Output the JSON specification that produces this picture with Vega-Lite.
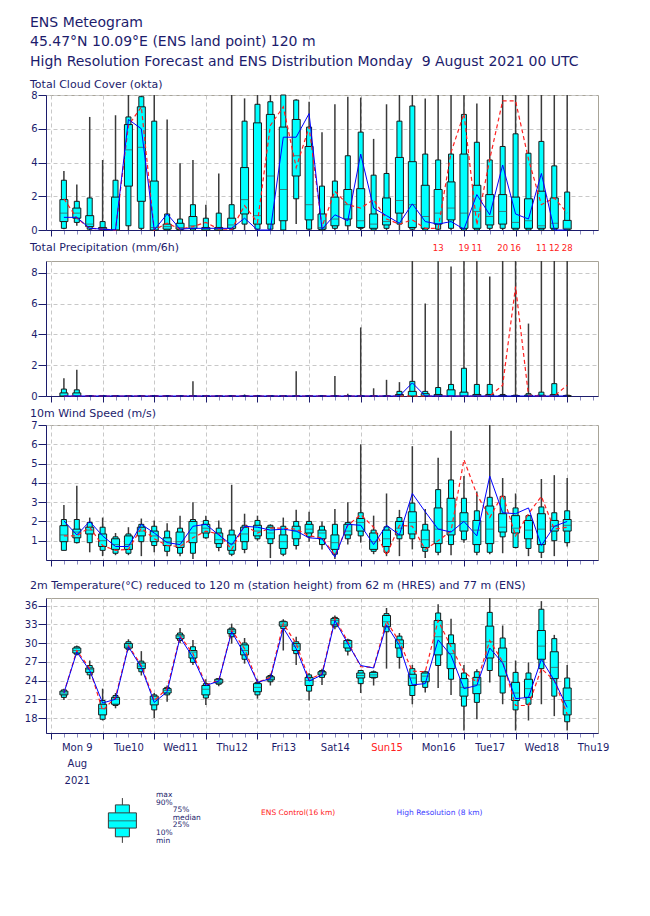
{
  "$schema": "https://vega.github.io/schema/vega-lite/v6.json",
  "padding": {"left": 23, "top": 15, "right": 5, "bottom": 5},
  "background": "white",
  "spacing": 4,
  "title": {
    "text": ["ENS Meteogram", "\u00a045.47°N 10.09°E (ENS land point) 120 m", "High Resolution Forecast and ENS Distribution Monday\u00a0 9 August 2021 00 UTC"],
    "anchor": "start", "frame": "group", "dx": -16, "fontSize": 14, "fontWeight": "normal",
    "color": "#1c1c6c", "lineHeight": 19.5, "offset": 10, "font": "DejaVu Sans"
  },
  "config": {
    "font": "DejaVu Sans",
    "view": {"stroke": "#a8a498", "strokeWidth": 1},
    "axis": {"domainColor": "#1c1c6c", "tickColor": "#1c1c6c", "labelColor": "#1c1c6c", "labelFont": "DejaVu Sans", "labelFontSize": 10, "gridColor": "#c8c8c8", "gridDash": [4, 3], "gridWidth": 1, "title": null},
    "axisY": {"tickSize": 8, "labelPadding": 1, "grid": true},
    "title": {"anchor": "start", "frame": "group", "dx": -16, "fontSize": 11, "fontWeight": "normal", "color": "#1c1c6c", "offset": -1, "font": "DejaVu Sans"}
  },
  "datasets": {
    "cloud": [
      {"t":6,"min":0.05,"p10":0.1,"p25":0.5,"med":1.0,"p75":1.8,"p90":2.95,"max":3.5,"ctrl":1.85,"hres":0.75},
      {"t":12,"min":0.25,"p10":0.45,"p25":0.7,"med":1.0,"p75":1.3,"p90":1.7,"max":2.7,"ctrl":0.7,"hres":0.75},
      {"t":18,"min":0,"p10":0.05,"p25":0.2,"med":0.35,"p75":0.85,"p90":1.9,"max":6.7,"ctrl":0.1,"hres":0.1},
      {"t":24,"min":0,"p10":0,"p25":0.05,"med":0.1,"p75":0.15,"p90":0.5,"max":4.15,"ctrl":0.05,"hres":0.05},
      {"t":30,"min":0,"p10":0,"p25":0,"med":0,"p75":1.95,"p90":2.95,"max":6.8,"ctrl":0,"hres":0},
      {"t":36,"min":0,"p10":0.25,"p25":2.6,"med":4.75,"p75":6.25,"p90":6.7,"max":8,"ctrl":6.2,"hres":6.55},
      {"t":42,"min":0,"p10":0.1,"p25":1.7,"med":4.9,"p75":7.3,"p90":7.9,"max":7.95,"ctrl":7.3,"hres":6.0},
      {"t":48,"min":0,"p10":0,"p25":0,"med":0.15,"p75":2.9,"p90":6.45,"max":8,"ctrl":0,"hres":0},
      {"t":54,"min":0,"p10":0,"p25":0.05,"med":0.2,"p75":0.35,"p90":0.95,"max":6.55,"ctrl":0.4,"hres":0.95},
      {"t":60,"min":0,"p10":0,"p25":0.05,"med":0.15,"p75":0.4,"p90":0.65,"max":3.95,"ctrl":0.05,"hres":0.05},
      {"t":66,"min":0,"p10":0,"p25":0.1,"med":0.25,"p75":0.8,"p90":1.5,"max":4.15,"ctrl":0.2,"hres":0.1},
      {"t":72,"min":0,"p10":0,"p25":0,"med":0.1,"p75":0.15,"p90":0.7,"max":1.5,"ctrl":0.45,"hres":0.1},
      {"t":78,"min":0,"p10":0,"p25":0,"med":0.1,"p75":0.15,"p90":1.0,"max":3.35,"ctrl":0.05,"hres":0.1},
      {"t":84,"min":0,"p10":0.05,"p25":0.1,"med":0.3,"p75":0.7,"p90":1.5,"max":8,"ctrl":0.05,"hres":0.1},
      {"t":90,"min":0,"p10":0.35,"p25":0.95,"med":1.8,"p75":3.7,"p90":6.45,"max":7.8,"ctrl":1.45,"hres":0.7},
      {"t":96,"min":0,"p10":0.05,"p25":0.35,"med":0.85,"p75":6.35,"p90":7.45,"max":8,"ctrl":0.45,"hres":0},
      {"t":102,"min":0,"p10":0.05,"p25":0.35,"med":3.2,"p75":6.85,"p90":7.6,"max":8,"ctrl":6.2,"hres":0},
      {"t":108,"min":0,"p10":0,"p25":0.55,"med":2.4,"p75":6.1,"p90":8,"max":8,"ctrl":7.3,"hres":5.5},
      {"t":114,"min":0.35,"p10":1.85,"p25":3.2,"med":4.4,"p75":6.55,"p90":7.7,"max":7.75,"ctrl":3.7,"hres":5.5},
      {"t":120,"min":0,"p10":0.05,"p25":0.6,"med":1.5,"p75":4.95,"p90":6.1,"max":7.6,"ctrl":6.1,"hres":6.9},
      {"t":126,"min":0,"p10":0,"p25":0.05,"med":0.15,"p75":0.95,"p90":2.6,"max":5.8,"ctrl":0.2,"hres":0.05},
      {"t":132,"min":0,"p10":0.1,"p25":0.25,"med":0.65,"p75":1.95,"p90":2.9,"max":7.45,"ctrl":2.3,"hres":0.9},
      {"t":138,"min":0,"p10":0.25,"p25":0.65,"med":1.5,"p75":2.4,"p90":4.4,"max":7.9,"ctrl":1.5,"hres":0.55},
      {"t":144,"min":0,"p10":0.1,"p25":0.15,"med":0.55,"p75":2.45,"p90":5.8,"max":7.85,"ctrl":1.3,"hres":4.5},
      {"t":150,"min":0,"p10":0,"p25":0.1,"med":0.35,"p75":0.95,"p90":3.25,"max":5.4,"ctrl":1.8,"hres":1.3},
      {"t":156,"min":0,"p10":0.1,"p25":0.3,"med":0.5,"p75":1.9,"p90":3.35,"max":7.45,"ctrl":0.65,"hres":0.85},
      {"t":162,"min":0,"p10":0.35,"p25":1.0,"med":1.75,"p75":4.3,"p90":6.45,"max":8,"ctrl":0.35,"hres":0.4},
      {"t":168,"min":0,"p10":0.05,"p25":0.15,"med":1.5,"p75":4.05,"p90":7.35,"max":8,"ctrl":0.6,"hres":1.55},
      {"t":174,"min":0,"p10":0,"p25":0.1,"med":0.8,"p75":2.65,"p90":4.5,"max":7.8,"ctrl":0.1,"hres":0.5},
      {"t":180,"min":0,"p10":0.05,"p25":0.35,"med":1.0,"p75":2.4,"p90":4.15,"max":8,"ctrl":0.1,"hres":0.35},
      {"t":186,"min":0,"p10":0.1,"p25":0.6,"med":1.3,"p75":2.85,"p90":4.5,"max":8,"ctrl":4.6,"hres":0.5},
      {"t":192,"min":0,"p10":0,"p25":0.1,"med":1.0,"p75":4.5,"p90":6.85,"max":8,"ctrl":6.9,"hres":0.05},
      {"t":198,"min":0,"p10":0,"p25":0.1,"med":1.1,"p75":2.65,"p90":5.2,"max":7.5,"ctrl":0.3,"hres":2.1},
      {"t":204,"min":0,"p10":0.1,"p25":0.3,"med":0.8,"p75":2.1,"p90":4.15,"max":7.9,"ctrl":4.2,"hres":0.9},
      {"t":210,"min":0,"p10":0.1,"p25":0.35,"med":1.1,"p75":2.1,"p90":4.95,"max":8,"ctrl":7.65,"hres":3.85},
      {"t":216,"min":0,"p10":0,"p25":0.1,"med":0.45,"p75":1.95,"p90":5.7,"max":8,"ctrl":7.65,"hres":0.95},
      {"t":222,"min":0,"p10":0,"p25":0.1,"med":0.55,"p75":1.85,"p90":4.55,"max":8,"ctrl":4.2,"hres":0.65},
      {"t":228,"min":0,"p10":0,"p25":0.1,"med":0.25,"p75":2.3,"p90":5.25,"max":8,"ctrl":1.5,"hres":3.35},
      {"t":234,"min":0,"p10":0,"p25":0.1,"med":0.4,"p75":1.9,"p90":3.8,"max":8,"ctrl":1.9,"hres":0},
      {"t":240,"min":0,"p10":0,"p25":0.05,"med":0.1,"p75":0.57,"p90":2.25,"max":8,"ctrl":1.0,"hres":0}
    ],
    "precip": [
      {"t":6,"min":0,"p10":0,"p25":0,"med":0.02,"p75":0.2,"p90":0.45,"max":1.15,"ctrl":0,"hres":0},
      {"t":12,"min":0,"p10":0,"p25":0,"med":0.05,"p75":0.2,"p90":0.4,"max":1.7,"ctrl":0,"hres":0},
      {"t":18,"min":0,"p10":0,"p25":0,"med":0,"p75":0,"p90":0,"max":0,"ctrl":0,"hres":0},
      {"t":24,"min":0,"p10":0,"p25":0,"med":0,"p75":0,"p90":0,"max":0,"ctrl":0,"hres":0},
      {"t":30,"min":0,"p10":0,"p25":0,"med":0,"p75":0,"p90":0,"max":0,"ctrl":0,"hres":0},
      {"t":36,"min":0,"p10":0,"p25":0,"med":0,"p75":0,"p90":0,"max":0,"ctrl":0,"hres":0},
      {"t":42,"min":0,"p10":0,"p25":0,"med":0,"p75":0,"p90":0,"max":0,"ctrl":0,"hres":0},
      {"t":48,"min":0,"p10":0,"p25":0,"med":0,"p75":0,"p90":0,"max":0,"ctrl":0,"hres":0},
      {"t":54,"min":0,"p10":0,"p25":0,"med":0,"p75":0,"p90":0,"max":0,"ctrl":0,"hres":0},
      {"t":60,"min":0,"p10":0,"p25":0,"med":0,"p75":0,"p90":0,"max":0,"ctrl":0,"hres":0},
      {"t":66,"min":0,"p10":0,"p25":0,"med":0,"p75":0,"p90":0,"max":0.95,"ctrl":0,"hres":0},
      {"t":72,"min":0,"p10":0,"p25":0,"med":0,"p75":0,"p90":0,"max":0,"ctrl":0,"hres":0},
      {"t":78,"min":0,"p10":0,"p25":0,"med":0,"p75":0,"p90":0,"max":0,"ctrl":0,"hres":0},
      {"t":84,"min":0,"p10":0,"p25":0,"med":0,"p75":0,"p90":0,"max":0,"ctrl":0,"hres":0},
      {"t":90,"min":0,"p10":0,"p25":0,"med":0,"p75":0,"p90":0,"max":0.1,"ctrl":0,"hres":0},
      {"t":96,"min":0,"p10":0,"p25":0,"med":0,"p75":0,"p90":0,"max":0,"ctrl":0,"hres":0},
      {"t":102,"min":0,"p10":0,"p25":0,"med":0,"p75":0,"p90":0,"max":0,"ctrl":0,"hres":0},
      {"t":108,"min":0,"p10":0,"p25":0,"med":0,"p75":0,"p90":0,"max":0,"ctrl":0,"hres":0},
      {"t":114,"min":0,"p10":0,"p25":0,"med":0,"p75":0,"p90":0,"max":1.6,"ctrl":0,"hres":0},
      {"t":120,"min":0,"p10":0,"p25":0,"med":0,"p75":0,"p90":0,"max":0,"ctrl":0,"hres":0},
      {"t":126,"min":0,"p10":0,"p25":0,"med":0,"p75":0,"p90":0,"max":0,"ctrl":0,"hres":0},
      {"t":132,"min":0,"p10":0,"p25":0,"med":0,"p75":0,"p90":0,"max":1.3,"ctrl":0,"hres":0},
      {"t":138,"min":0,"p10":0,"p25":0,"med":0,"p75":0,"p90":0,"max":0.15,"ctrl":0,"hres":0},
      {"t":144,"min":0,"p10":0,"p25":0,"med":0,"p75":0,"p90":0,"max":4.45,"ctrl":0,"hres":0},
      {"t":150,"min":0,"p10":0,"p25":0,"med":0,"p75":0,"p90":0,"max":0.5,"ctrl":0,"hres":0},
      {"t":156,"min":0,"p10":0,"p25":0,"med":0,"p75":0,"p90":0,"max":1.05,"ctrl":0,"hres":0},
      {"t":162,"min":0,"p10":0,"p25":0,"med":0.02,"p75":0.1,"p90":0.3,"max":0.9,"ctrl":0,"hres":0},
      {"t":168,"min":0,"p10":0,"p25":0,"med":0.05,"p75":0.3,"p90":0.95,"max":8.8,"ctrl":0,"hres":0.85},
      {"t":174,"min":0,"p10":0,"p25":0,"med":0.02,"p75":0.15,"p90":0.3,"max":6.0,"ctrl":0,"hres":0},
      {"t":180,"min":0,"p10":0,"p25":0,"med":0.02,"p75":0.1,"p90":0.55,"max":13,"ctrl":0,"hres":0},
      {"t":186,"min":0,"p10":0,"p25":0,"med":0.1,"p75":0.4,"p90":0.75,"max":8.4,"ctrl":0,"hres":0},
      {"t":192,"min":0,"p10":0,"p25":0,"med":0.05,"p75":0.25,"p90":1.8,"max":19,"ctrl":0,"hres":0},
      {"t":198,"min":0,"p10":0,"p25":0,"med":0.02,"p75":0.1,"p90":0.75,"max":11,"ctrl":0,"hres":0},
      {"t":204,"min":0,"p10":0,"p25":0,"med":0.02,"p75":0.1,"p90":0.75,"max":7.75,"ctrl":0,"hres":0},
      {"t":210,"min":0,"p10":0,"p25":0,"med":0,"p75":0.02,"p90":0.1,"max":20,"ctrl":0.7,"hres":0},
      {"t":216,"min":0,"p10":0,"p25":0,"med":0,"p75":0.02,"p90":0.05,"max":16,"ctrl":7.1,"hres":0},
      {"t":222,"min":0,"p10":0,"p25":0,"med":0,"p75":0.05,"p90":0.15,"max":4.7,"ctrl":0.05,"hres":0},
      {"t":228,"min":0,"p10":0,"p25":0,"med":0,"p75":0.05,"p90":0.25,"max":11,"ctrl":0,"hres":0},
      {"t":234,"min":0,"p10":0,"p25":0,"med":0.02,"p75":0.1,"p90":0.8,"max":12,"ctrl":0,"hres":0},
      {"t":240,"min":0,"p10":0,"p25":0,"med":0,"p75":0.02,"p90":0.05,"max":28,"ctrl":0.7,"hres":0}
    ],
    "wind": [
      {"t":6,"min":0.5,"p10":0.5,"p25":0.95,"med":1.3,"p75":1.78,"p90":2.1,"max":2.85,"ctrl":1.25,"hres":2.03},
      {"t":12,"min":0.85,"p10":0.9,"p25":1.15,"med":1.45,"p75":1.6,"p90":2.1,"max":3.85,"ctrl":1.25,"hres":1.3},
      {"t":18,"min":0.4,"p10":0.9,"p25":1.35,"med":1.55,"p75":1.7,"p90":1.95,"max":2.2,"ctrl":1.7,"hres":2.0},
      {"t":24,"min":0.2,"p10":0.5,"p25":0.7,"med":1.0,"p75":1.35,"p90":1.7,"max":2.2,"ctrl":0.75,"hres":1.25},
      {"t":30,"min":0.25,"p10":0.35,"p25":0.55,"med":0.8,"p75":1.1,"p90":1.2,"max":1.4,"ctrl":0.5,"hres":0.7},
      {"t":36,"min":0.25,"p10":0.35,"p25":0.55,"med":0.8,"p75":1.25,"p90":1.35,"max":1.7,"ctrl":0.55,"hres":0.7},
      {"t":42,"min":0.2,"p10":0.95,"p25":1.25,"med":1.5,"p75":1.7,"p90":1.85,"max":2.15,"ctrl":1.65,"hres":1.85},
      {"t":48,"min":0.4,"p10":0.75,"p25":0.95,"med":1.25,"p75":1.5,"p90":1.75,"max":2.05,"ctrl":1.1,"hres":1.4},
      {"t":54,"min":0.2,"p10":0.45,"p25":0.75,"med":0.95,"p75":1.15,"p90":1.5,"max":1.9,"ctrl":0.75,"hres":0.9},
      {"t":60,"min":0.2,"p10":0.35,"p25":0.65,"med":0.95,"p75":1.45,"p90":1.65,"max":2.3,"ctrl":0.7,"hres":0.8},
      {"t":66,"min":0.05,"p10":0.35,"p25":0.9,"med":1.4,"p75":2.0,"p90":2.1,"max":3.0,"ctrl":1.15,"hres":1.75},
      {"t":72,"min":1.1,"p10":1.15,"p25":1.4,"med":1.65,"p75":1.85,"p90":2.05,"max":2.3,"ctrl":1.5,"hres":1.85},
      {"t":78,"min":0.45,"p10":0.65,"p25":0.85,"med":1.05,"p75":1.4,"p90":1.65,"max":2.05,"ctrl":1.35,"hres":1.3},
      {"t":84,"min":0.2,"p10":0.3,"p25":0.5,"med":0.85,"p75":1.3,"p90":1.55,"max":3.9,"ctrl":0.55,"hres":0.78},
      {"t":90,"min":0.35,"p10":0.55,"p25":0.95,"med":1.35,"p75":1.7,"p90":1.8,"max":2.4,"ctrl":1.8,"hres":1.75},
      {"t":96,"min":1.0,"p10":1.1,"p25":1.25,"med":1.5,"p75":1.8,"p90":2.05,"max":2.3,"ctrl":1.4,"hres":1.7},
      {"t":102,"min":0.1,"p10":0.85,"p25":1.1,"med":1.4,"p75":1.7,"p90":1.8,"max":1.85,"ctrl":1.65,"hres":1.55},
      {"t":108,"min":0.2,"p10":0.3,"p25":0.6,"med":0.95,"p75":1.3,"p90":1.75,"max":2.2,"ctrl":1.65,"hres":1.6},
      {"t":114,"min":0.55,"p10":0.75,"p25":1.1,"med":1.5,"p75":1.75,"p90":2.0,"max":2.6,"ctrl":1.6,"hres":1.5},
      {"t":120,"min":0.95,"p10":1.2,"p25":1.4,"med":1.6,"p75":1.85,"p90":2.0,"max":2.5,"ctrl":1.25,"hres":1.15},
      {"t":126,"min":0.55,"p10":0.8,"p25":1.1,"med":1.4,"p75":1.55,"p90":1.75,"max":2.0,"ctrl":1.15,"hres":1.1},
      {"t":132,"min":0.05,"p10":0.3,"p25":0.55,"med":0.9,"p75":1.3,"p90":1.85,"max":2.65,"ctrl":0.25,"hres":0.15},
      {"t":138,"min":0.8,"p10":1.1,"p25":1.3,"med":1.5,"p75":1.85,"p90":1.95,"max":3.0,"ctrl":1.8,"hres":1.85},
      {"t":144,"min":0.9,"p10":1.25,"p25":1.5,"med":1.95,"p75":2.15,"p90":2.45,"max":6.0,"ctrl":2.35,"hres":1.8},
      {"t":150,"min":0.3,"p10":0.45,"p25":0.55,"med":0.95,"p75":1.4,"p90":1.55,"max":2.3,"ctrl":1.7,"hres":0.8},
      {"t":156,"min":0.2,"p10":0.4,"p25":0.7,"med":1.1,"p75":1.55,"p90":1.72,"max":3.45,"ctrl":0.25,"hres":1.8},
      {"t":162,"min":0.2,"p10":1.1,"p25":1.3,"med":1.65,"p75":2.0,"p90":2.2,"max":2.6,"ctrl":1.8,"hres":1.3},
      {"t":168,"min":0.55,"p10":1.1,"p25":1.35,"med":1.95,"p75":2.5,"p90":2.95,"max":5.9,"ctrl":1.75,"hres":3.45},
      {"t":174,"min":0.1,"p10":0.45,"p25":0.65,"med":1.05,"p75":1.55,"p90":1.85,"max":2.65,"ctrl":0.55,"hres":2.5},
      {"t":180,"min":0.25,"p10":0.4,"p25":0.85,"med":1.6,"p75":2.7,"p90":3.65,"max":5.3,"ctrl":1.0,"hres":1.6},
      {"t":186,"min":0.25,"p10":0.8,"p25":1.3,"med":2.0,"p75":3.2,"p90":4.15,"max":6.7,"ctrl":1.5,"hres":1.45},
      {"t":192,"min":0.9,"p10":1.05,"p25":1.5,"med":2.0,"p75":2.45,"p90":3.2,"max":4.35,"ctrl":5.2,"hres":2.0},
      {"t":198,"min":0.25,"p10":0.4,"p25":0.8,"med":1.55,"p75":2.05,"p90":2.55,"max":3.55,"ctrl":3.4,"hres":1.25},
      {"t":204,"min":0.3,"p10":0.4,"p25":0.85,"med":1.6,"p75":2.8,"p90":3.25,"max":7.0,"ctrl":2.2,"hres":4.35},
      {"t":210,"min":0.35,"p10":1.2,"p25":1.45,"med":1.7,"p75":2.4,"p90":3.3,"max":4.25,"ctrl":3.4,"hres":2.45},
      {"t":216,"min":0.6,"p10":0.65,"p25":1.4,"med":1.65,"p75":2.3,"p90":2.7,"max":3.45,"ctrl":1.25,"hres":2.4},
      {"t":222,"min":0.2,"p10":0.6,"p25":1.1,"med":1.55,"p75":2.05,"p90":2.3,"max":2.35,"ctrl":2.4,"hres":2.7},
      {"t":228,"min":0.1,"p10":0.4,"p25":0.8,"med":1.6,"p75":2.4,"p90":2.75,"max":4.2,"ctrl":3.3,"hres":0.75},
      {"t":234,"min":0.2,"p10":1.0,"p25":1.5,"med":1.75,"p75":2.05,"p90":2.45,"max":4.4,"ctrl":1.6,"hres":1.75},
      {"t":240,"min":0.7,"p10":0.9,"p25":1.5,"med":1.8,"p75":2.1,"p90":2.55,"max":4.25,"ctrl":1.7,"hres":2.0}
    ],
    "temp": [
      {"t":6,"min":20.9,"p10":21.3,"p25":21.7,"med":22.0,"p75":22.3,"p90":22.5,"max":22.7,"ctrl":22.0,"hres":22.0},
      {"t":12,"min":28.0,"p10":28.2,"p25":28.4,"med":28.8,"p75":29.2,"p90":29.4,"max":29.6,"ctrl":28.8,"hres":28.55},
      {"t":18,"min":24.2,"p10":24.9,"p25":25.3,"med":25.8,"p75":26.0,"p90":26.4,"max":27.2,"ctrl":25.9,"hres":25.6},
      {"t":24,"min":17.6,"p10":17.8,"p25":18.5,"med":19.5,"p75":20.2,"p90":20.8,"max":22.7,"ctrl":19.2,"hres":20.4},
      {"t":30,"min":19.55,"p10":20.0,"p25":20.2,"med":21.0,"p75":21.3,"p90":21.6,"max":22.0,"ctrl":21.3,"hres":21.0},
      {"t":36,"min":28.8,"p10":29.0,"p25":29.2,"med":29.5,"p75":29.9,"p90":30.2,"max":30.6,"ctrl":29.6,"hres":29.4},
      {"t":42,"min":24.8,"p10":25.4,"p25":25.9,"med":26.3,"p75":26.8,"p90":27.1,"max":28.7,"ctrl":26.4,"hres":26.1},
      {"t":48,"min":18.0,"p10":19.3,"p25":20.1,"med":21.0,"p75":21.5,"p90":21.7,"max":22.0,"ctrl":20.8,"hres":20.5},
      {"t":54,"min":20.6,"p10":21.7,"p25":22.0,"med":22.4,"p75":22.7,"p90":22.9,"max":23.2,"ctrl":22.7,"hres":22.2},
      {"t":60,"min":30.0,"p10":30.4,"p25":30.7,"med":31.1,"p75":31.3,"p90":31.6,"max":32.4,"ctrl":31.1,"hres":30.9},
      {"t":66,"min":26.5,"p10":26.9,"p25":27.6,"med":28.55,"p75":28.8,"p90":29.4,"max":30.5,"ctrl":28.3,"hres":27.7},
      {"t":72,"min":20.1,"p10":21.2,"p25":21.7,"med":22.6,"p75":23.2,"p90":23.5,"max":24.2,"ctrl":23.3,"hres":23.2},
      {"t":78,"min":23.1,"p10":23.4,"p25":23.6,"med":23.9,"p75":24.2,"p90":24.3,"max":24.4,"ctrl":24.0,"hres":23.9},
      {"t":84,"min":29.9,"p10":31.0,"p25":31.5,"med":31.9,"p75":32.2,"p90":32.4,"max":33.1,"ctrl":32.0,"hres":31.8},
      {"t":90,"min":26.7,"p10":27.4,"p25":28.1,"med":28.8,"p75":29.7,"p90":30.0,"max":30.8,"ctrl":29.1,"hres":28.2},
      {"t":96,"min":21.1,"p10":21.7,"p25":22.2,"med":22.9,"p75":23.5,"p90":23.7,"max":24.2,"ctrl":23.7,"hres":23.7},
      {"t":102,"min":23.2,"p10":23.8,"p25":24.1,"med":24.4,"p75":24.6,"p90":24.8,"max":25.1,"ctrl":24.5,"hres":24.3},
      {"t":108,"min":28.8,"p10":32.3,"p25":32.7,"med":33.0,"p75":33.4,"p90":33.5,"max":33.8,"ctrl":33.1,"hres":32.4},
      {"t":114,"min":26.5,"p10":28.3,"p25":28.8,"med":29.5,"p75":29.9,"p90":30.2,"max":31.0,"ctrl":29.9,"hres":29.1},
      {"t":120,"min":20.8,"p10":22.3,"p25":23.2,"med":24.0,"p75":24.5,"p90":24.9,"max":25.2,"ctrl":24.2,"hres":23.9},
      {"t":126,"min":23.3,"p10":24.5,"p25":24.9,"med":25.2,"p75":25.4,"p90":25.6,"max":25.9,"ctrl":25.1,"hres":24.9},
      {"t":132,"min":32.2,"p10":32.6,"p25":32.9,"med":33.6,"p75":33.9,"p90":34.1,"max":34.4,"ctrl":33.9,"hres":33.6},
      {"t":138,"min":28.0,"p10":28.7,"p25":29.2,"med":29.9,"p75":30.4,"p90":30.5,"max":30.7,"ctrl":30.2,"hres":29.9},
      {"t":144,"min":22.0,"p10":23.5,"p25":24.4,"med":24.8,"p75":25.2,"p90":25.6,"max":25.7,"ctrl":26.2,"hres":26.4},
      {"t":150,"min":23.2,"p10":24.4,"p25":24.5,"med":24.9,"p75":25.3,"p90":25.4,"max":25.6,"ctrl":26.1,"hres":26.0},
      {"t":156,"min":25.9,"p10":31.8,"p25":32.6,"med":33.4,"p75":34.4,"p90":34.7,"max":35.6,"ctrl":33.5,"hres":32.9},
      {"t":162,"min":25.9,"p10":27.7,"p25":29.2,"med":29.9,"p75":30.5,"p90":31.1,"max":31.6,"ctrl":30.2,"hres":29.6},
      {"t":168,"min":20.2,"p10":21.6,"p25":23.2,"med":24.4,"p75":25.0,"p90":25.9,"max":26.5,"ctrl":25.5,"hres":23.3},
      {"t":174,"min":22.1,"p10":22.9,"p25":23.8,"med":24.7,"p75":25.2,"p90":25.4,"max":25.6,"ctrl":25.4,"hres":23.5},
      {"t":180,"min":22.8,"p10":26.4,"p25":28.1,"med":31.0,"p75":33.6,"p90":34.8,"max":36.2,"ctrl":33.6,"hres":30.5},
      {"t":186,"min":21.7,"p10":24.2,"p25":25.9,"med":28.3,"p75":29.9,"p90":31.3,"max":33.9,"ctrl":29.4,"hres":28.0},
      {"t":192,"min":16.0,"p10":19.9,"p25":21.5,"med":22.9,"p75":24.3,"p90":25.2,"max":26.5,"ctrl":25.4,"hres":22.7},
      {"t":198,"min":17.8,"p10":20.5,"p25":21.9,"med":23.3,"p75":24.5,"p90":25.4,"max":25.8,"ctrl":23.7,"hres":23.2},
      {"t":204,"min":23.7,"p10":25.6,"p25":27.6,"med":30.2,"p75":32.7,"p90":34.9,"max":37.2,"ctrl":30.4,"hres":29.2},
      {"t":210,"min":20.2,"p10":22.0,"p25":24.7,"med":27.0,"p75":29.2,"p90":30.8,"max":32.8,"ctrl":27.0,"hres":26.8},
      {"t":216,"min":16.0,"p10":19.3,"p25":20.8,"med":22.0,"p75":23.7,"p90":25.3,"max":27.2,"ctrl":20.0,"hres":21.1},
      {"t":222,"min":17.6,"p10":20.2,"p25":21.3,"med":22.7,"p75":24.2,"p90":25.2,"max":26.9,"ctrl":20.0,"hres":21.3},
      {"t":228,"min":20.2,"p10":25.9,"p25":27.4,"med":29.5,"p75":32.0,"p90":35.4,"max":36.7,"ctrl":25.9,"hres":27.4},
      {"t":234,"min":18.3,"p10":21.5,"p25":24.3,"med":26.1,"p75":28.6,"p90":30.7,"max":31.3,"ctrl":24.0,"hres":24.0},
      {"t":240,"min":16.0,"p10":17.4,"p25":18.5,"med":20.8,"p75":22.8,"p90":24.4,"max":26.5,"ctrl":18.6,"hres":19.7}
    ]
  },
  "vconcat": [
    {
      "title": {"text": "Total Cloud Cover (okta)", "offset": 0},
      "data": {"name": "cloud"},
      "width": 552, "height": 135,
      "encoding": {"x": {"field": "t", "type": "quantitative", "scale": {"domain": [0, 252], "nice": false, "zero": false},
        "axis": {"values": [0,6,12,18,24,30,36,42,48,54,60,66,72,78,84,90,96,102,108,114,120,126,132,138,144,150,156,162,168,174,180,186,192,198,204,210,216,222,228,234,240,246,252], "tickCount": 100, "labels": false, "grid": true,
          "gridOpacity": {"condition": {"test": "datum.value % 24 == 0", "value": 1}, "value": 0},
          "tickColor": {"condition": {"test": "datum.value % 24 == 0", "value": "#1c1c6c"}, "value": "#8c8cc0"},
          "tickSize": {"condition": {"test": "datum.value % 24 == 0", "value": 6}, "value": 4}}}},
      "layer": [
        {"mark": {"type": "rule", "color": "#3a3a3a", "strokeWidth": 1.5}, "encoding": {"y": {"field": "min", "type": "quantitative", "scale": {"domain": [0, 8], "nice": false, "clamp": true}, "axis": {"values": [0, 2, 4, 6, 8], "tickCount": 20, "format": "d", "labelOverlap": false}}, "y2": {"field": "max"}}},
        {"mark": {"type": "bar", "size": 5, "fill": "#00ffff", "stroke": "#1a1a1a", "strokeWidth": 1}, "encoding": {"y": {"field": "p10", "type": "quantitative", "scale": {"domain": [0, 8], "nice": false, "clamp": true}}, "y2": {"field": "p90"}}},
        {"mark": {"type": "bar", "size": 8, "fill": "#00ffff", "stroke": "#1a1a1a", "strokeWidth": 1}, "encoding": {"y": {"field": "p25", "type": "quantitative", "scale": {"domain": [0, 8], "nice": false, "clamp": true}}, "y2": {"field": "p75"}}},
        {"mark": {"type": "tick", "orient": "horizontal", "size": 8, "thickness": 1, "color": "#4a4a4a"}, "encoding": {"y": {"field": "med", "type": "quantitative", "scale": {"domain": [0, 8], "nice": false, "clamp": true}}}},
        {"mark": {"type": "line", "color": "#ff2020", "strokeDash": [4, 3], "strokeWidth": 1.2}, "encoding": {"y": {"field": "ctrl", "type": "quantitative", "scale": {"domain": [0, 8], "nice": false, "clamp": true}}}},
        {"mark": {"type": "line", "color": "#0000ff", "strokeWidth": 1}, "encoding": {"y": {"field": "hres", "type": "quantitative", "scale": {"domain": [0, 8], "nice": false, "clamp": true}}}}
      ]
    },
    {
      "title": {"text": "Total Precipitation (mm/6h)", "offset": -9},
      "data": {"name": "precip"},
      "width": 552, "height": 135,
      "encoding": {"x": {"field": "t", "type": "quantitative", "scale": {"domain": [0, 252], "nice": false, "zero": false},
        "axis": {"values": [0,6,12,18,24,30,36,42,48,54,60,66,72,78,84,90,96,102,108,114,120,126,132,138,144,150,156,162,168,174,180,186,192,198,204,210,216,222,228,234,240,246,252], "tickCount": 100, "labels": false, "grid": true,
          "gridOpacity": {"condition": {"test": "datum.value % 24 == 0", "value": 1}, "value": 0},
          "tickColor": {"condition": {"test": "datum.value % 24 == 0", "value": "#1c1c6c"}, "value": "#8c8cc0"},
          "tickSize": {"condition": {"test": "datum.value % 24 == 0", "value": 6}, "value": 4}}}},
      "layer": [
        {"mark": {"type": "rule", "color": "#3a3a3a", "strokeWidth": 1.5}, "encoding": {"y": {"field": "min", "type": "quantitative", "scale": {"domain": [0, 8.76], "nice": false, "clamp": true}, "axis": {"values": [0, 2, 4, 6, 8], "tickCount": 20, "format": "d", "labelOverlap": false}}, "y2": {"field": "max"}}},
        {"mark": {"type": "bar", "size": 5, "fill": "#00ffff", "stroke": "#1a1a1a", "strokeWidth": 1}, "encoding": {"y": {"field": "p10", "type": "quantitative", "scale": {"domain": [0, 8.76], "nice": false, "clamp": true}}, "y2": {"field": "p90"}}},
        {"mark": {"type": "bar", "size": 8, "fill": "#00ffff", "stroke": "#1a1a1a", "strokeWidth": 1}, "encoding": {"y": {"field": "p25", "type": "quantitative", "scale": {"domain": [0, 8.76], "nice": false, "clamp": true}}, "y2": {"field": "p75"}}},
        {"mark": {"type": "line", "color": "#ff2020", "strokeDash": [4, 3], "strokeWidth": 1.2}, "encoding": {"y": {"field": "ctrl", "type": "quantitative", "scale": {"domain": [0, 8.76], "nice": false, "clamp": true}}}},
        {"mark": {"type": "line", "color": "#0000ff", "strokeWidth": 1}, "encoding": {"y": {"field": "hres", "type": "quantitative", "scale": {"domain": [0, 8.76], "nice": false, "clamp": true}}}},
        {"transform": [{"filter": "datum.max >= 10"}], "mark": {"type": "text", "color": "#ff2020", "fontSize": 8.5, "baseline": "middle", "dy": -13}, "encoding": {"y": {"field": "max", "type": "quantitative", "scale": {"domain": [0, 8.76], "nice": false, "clamp": true}}, "text": {"field": "max", "type": "quantitative", "format": "d"}}}
      ]
    },
    {
      "title": {"text": "10m Wind Speed (m/s)", "offset": 0.7},
      "data": {"name": "wind"},
      "width": 552, "height": 135,
      "encoding": {"x": {"field": "t", "type": "quantitative", "scale": {"domain": [0, 252], "nice": false, "zero": false},
        "axis": {"values": [0,6,12,18,24,30,36,42,48,54,60,66,72,78,84,90,96,102,108,114,120,126,132,138,144,150,156,162,168,174,180,186,192,198,204,210,216,222,228,234,240,246,252], "tickCount": 100, "grid": true,
          "labelExpr": "datum.value == 0 ? '.' : ''", "labelOpacity": 0, "labelPadding": -2, "labelFontSize": 10,
          "gridOpacity": {"condition": {"test": "datum.value % 24 == 0", "value": 1}, "value": 0},
          "tickColor": {"condition": {"test": "datum.value % 24 == 0", "value": "#1c1c6c"}, "value": "#8c8cc0"},
          "tickSize": {"condition": {"test": "datum.value % 24 == 0", "value": 6}, "value": 4}}}},
      "layer": [
        {"mark": {"type": "rule", "color": "#3a3a3a", "strokeWidth": 1.5}, "encoding": {"y": {"field": "min", "type": "quantitative", "scale": {"domain": [0, 7], "nice": false, "clamp": true}, "axis": {"values": [1, 2, 3, 4, 5, 6, 7], "tickCount": 20, "format": "d", "labelOverlap": false}}, "y2": {"field": "max"}}},
        {"mark": {"type": "bar", "size": 5, "fill": "#00ffff", "stroke": "#1a1a1a", "strokeWidth": 1}, "encoding": {"y": {"field": "p10", "type": "quantitative", "scale": {"domain": [0, 7], "nice": false, "clamp": true}}, "y2": {"field": "p90"}}},
        {"mark": {"type": "bar", "size": 8, "fill": "#00ffff", "stroke": "#1a1a1a", "strokeWidth": 1}, "encoding": {"y": {"field": "p25", "type": "quantitative", "scale": {"domain": [0, 7], "nice": false, "clamp": true}}, "y2": {"field": "p75"}}},
        {"mark": {"type": "tick", "orient": "horizontal", "size": 8, "thickness": 1, "color": "#4a4a4a"}, "encoding": {"y": {"field": "med", "type": "quantitative", "scale": {"domain": [0, 7], "nice": false, "clamp": true}}}},
        {"mark": {"type": "line", "color": "#ff2020", "strokeDash": [4, 3], "strokeWidth": 1.2}, "encoding": {"y": {"field": "ctrl", "type": "quantitative", "scale": {"domain": [0, 7], "nice": false, "clamp": true}}}},
        {"mark": {"type": "line", "color": "#0000ff", "strokeWidth": 1}, "encoding": {"y": {"field": "hres", "type": "quantitative", "scale": {"domain": [0, 7], "nice": false, "clamp": true}}}}
      ]
    },
    {
      "title": {"text": "2m Temperature(°C) reduced to 120 m (station height) from 62 m (HRES) and 77 m (ENS)", "offset": 6.5},
      "data": {"name": "temp"},
      "width": 552, "height": 135,
      "encoding": {"x": {"field": "t", "type": "quantitative", "scale": {"domain": [0, 252], "nice": false, "zero": false},
        "axis": {"values": [0,6,12,18,24,30,36,42,48,54,60,66,72,78,84,90,96,102,108,114,120,126,132,138,144,150,156,162,168,174,180,186,192,198,204,210,216,222,228,234,240,246,252], "tickCount": 100, "grid": true,
          "gridOpacity": {"condition": {"test": "datum.value % 24 == 0", "value": 1}, "value": 0},
          "tickColor": {"condition": {"test": "datum.value % 24 == 0", "value": "#1c1c6c"}, "value": "#8c8cc0"},
          "tickSize": {"condition": {"test": "datum.value % 24 == 0", "value": 6}, "value": 4},
          "labelOverlap": false, "labelBound": false, "labelFlush": false, "labelPadding": 5, "labelLineHeight": 16.5, "labelFontSize": 10,
          "labelColor": {"condition": {"test": "datum.value == 156", "value": "#ff2020"}, "value": "#1c1c6c"},
          "labelExpr": "datum.value % 24 == 12 ? (datum.value == 12 ? ['Mon 9', 'Aug', '2021'] : ['Mon 9','Tue10','Wed11','Thu12','Fri13','Sat14','Sun15','Mon16','Tue17','Wed18','Thu19'][floor(datum.value / 24)]) : ''"}}},
      "layer": [
        {"mark": {"type": "rule", "color": "#3a3a3a", "strokeWidth": 1.5}, "encoding": {"y": {"field": "min", "type": "quantitative", "scale": {"domain": [15.6, 37.2], "nice": false, "zero": false, "clamp": true}, "axis": {"values": [18, 21, 24, 27, 30, 33, 36], "tickCount": 20, "format": "d", "labelOverlap": false}}, "y2": {"field": "max"}}},
        {"mark": {"type": "bar", "size": 5, "fill": "#00ffff", "stroke": "#1a1a1a", "strokeWidth": 1}, "encoding": {"y": {"field": "p10", "type": "quantitative", "scale": {"domain": [15.6, 37.2], "nice": false, "zero": false, "clamp": true}}, "y2": {"field": "p90"}}},
        {"mark": {"type": "bar", "size": 8, "fill": "#00ffff", "stroke": "#1a1a1a", "strokeWidth": 1}, "encoding": {"y": {"field": "p25", "type": "quantitative", "scale": {"domain": [15.6, 37.2], "nice": false, "zero": false, "clamp": true}}, "y2": {"field": "p75"}}},
        {"mark": {"type": "tick", "orient": "horizontal", "size": 8, "thickness": 1, "color": "#4a4a4a"}, "encoding": {"y": {"field": "med", "type": "quantitative", "scale": {"domain": [15.6, 37.2], "nice": false, "zero": false, "clamp": true}}}},
        {"mark": {"type": "line", "color": "#ff2020", "strokeDash": [4, 3], "strokeWidth": 1.2}, "encoding": {"y": {"field": "ctrl", "type": "quantitative", "scale": {"domain": [15.6, 37.2], "nice": false, "zero": false, "clamp": true}}}},
        {"mark": {"type": "line", "color": "#0000ff", "strokeWidth": 1}, "encoding": {"y": {"field": "hres", "type": "quantitative", "scale": {"domain": [15.6, 37.2], "nice": false, "zero": false, "clamp": true}}}}
      ]
    },
    {
      "width": 552, "height": 50.6,
      "view": {"stroke": null},
      "layer": [
        {"data": {"values": [{"pos": 72.7, "min": -0.3, "p10": 0.5, "p25": 1.65, "med": 2.6, "p75": 3.65, "p90": 4.7, "max": 5.6}]},
         "layer": [
           {"mark": {"type": "rule", "color": "#3a3a3a", "strokeWidth": 1}, "encoding": {"x": {"field": "pos", "type": "quantitative", "scale": {"domain": [0, 552], "nice": false}, "axis": null}, "y": {"field": "min", "type": "quantitative", "scale": {"domain": [0, 6.66], "nice": false}, "axis": null}, "y2": {"field": "max"}}},
           {"mark": {"type": "bar", "size": 14, "fill": "#00ffff", "stroke": "#3a3a3a", "strokeWidth": 1}, "encoding": {"x": {"field": "pos", "type": "quantitative", "scale": {"domain": [0, 552], "nice": false}, "axis": null}, "y": {"field": "p10", "type": "quantitative", "scale": {"domain": [0, 6.66], "nice": false}, "axis": null}, "y2": {"field": "p90"}}},
           {"mark": {"type": "bar", "size": 28, "fill": "#00ffff", "stroke": "#3a3a3a", "strokeWidth": 1}, "encoding": {"x": {"field": "pos", "type": "quantitative", "scale": {"domain": [0, 552], "nice": false}, "axis": null}, "y": {"field": "p25", "type": "quantitative", "scale": {"domain": [0, 6.66], "nice": false}, "axis": null}, "y2": {"field": "p75"}}},
           {"mark": {"type": "tick", "orient": "horizontal", "size": 28, "thickness": 1, "color": "#3a3a3a"}, "encoding": {"x": {"field": "pos", "type": "quantitative", "scale": {"domain": [0, 552], "nice": false}, "axis": null}, "y": {"field": "med", "type": "quantitative", "scale": {"domain": [0, 6.66], "nice": false}, "axis": null}}}
         ]},
        {"data": {"values": [
            {"label": "max", "lev": 6, "col": 107},
            {"label": "90%", "lev": 5, "col": 107},
            {"label": "75%", "lev": 4, "col": 124},
            {"label": "median", "lev": 3, "col": 124},
            {"label": "25%", "lev": 2, "col": 124},
            {"label": "10%", "lev": 1, "col": 107},
            {"label": "min", "lev": 0, "col": 107}
          ]},
         "mark": {"type": "text", "align": "left", "baseline": "middle", "fontSize": 7.5, "color": "#1c1c6c"},
         "encoding": {"x": {"field": "col", "type": "quantitative", "scale": {"domain": [0, 552], "nice": false}, "axis": null}, "y": {"field": "lev", "type": "quantitative", "scale": {"domain": [0, 6.66], "nice": false}, "axis": null}, "text": {"field": "label"}}},
        {"data": {"values": [
            {"label": "ENS Control(16 km)", "lev": 3.67, "col": 214, "series": "ctrl"},
            {"label": "High Resolution (8 km)", "lev": 3.67, "col": 352, "series": "hres"}
          ]},
         "mark": {"type": "text", "align": "left", "baseline": "middle", "fontSize": 7.5},
         "encoding": {"x": {"field": "col", "type": "quantitative", "scale": {"domain": [0, 552], "nice": false}, "axis": null}, "y": {"field": "lev", "type": "quantitative", "scale": {"domain": [0, 6.66], "nice": false}, "axis": null}, "text": {"field": "label"},
           "color": {"field": "series", "type": "nominal", "scale": {"domain": ["ctrl", "hres"], "range": ["#ff2020", "#4040ff"]}, "legend": null}}}
      ]
    }
  ]
}
